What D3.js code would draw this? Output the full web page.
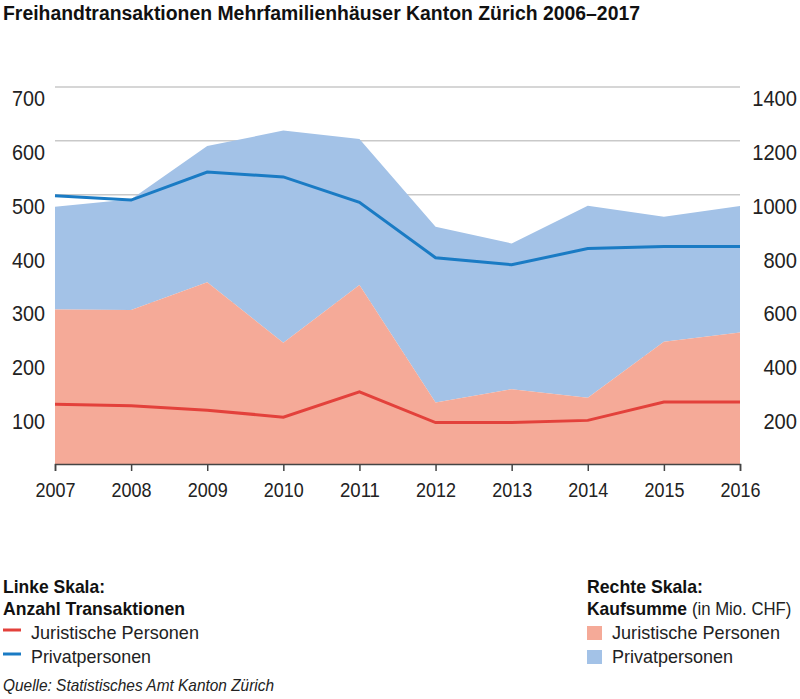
<!DOCTYPE html>
<html><head><meta charset="utf-8">
<script src="https://cdn.jsdelivr.net/npm/d3@7"></script>
<style>
body{margin:0;background:#fff;}
text{font-family:"Liberation Sans",Arial,sans-serif;}
</style></head>
<body><svg id="c" width="800" height="699"></svg>
<script>
const years = [2007,2008,2009,2010,2011,2012,2013,2014,2015,2016];
// Left scale: number of transactions
const countJuristisch = [111,108,100,87,134,77,77,81,115,115];
const countPrivat = [498,490,542,533,486,383,370,400,404,404];
// Right scale: purchase sum (Mio. CHF)
const sumJuristisch = [574,572,675,450,665,228,278,246,454,488];
const sumPrivat = [381,411,506,788,542,653,541,713,464,470];
const leftTicks = [100,200,300,400,500,600,700];
const rightTicks = [200,400,600,800,1000,1200,1400];

const svg = d3.select("#c");
const x = d3.scalePoint().domain(years).range([55,740]);
const yL = d3.scaleLinear().domain([0,700]).range([464,87]);
const yR = d3.scaleLinear().domain([0,1400]).range([464,87]);

function fit(sel, w){ return sel.attr("textLength", w).attr("lengthAdjust","spacingAndGlyphs"); }

// title
fit(svg.append("text").attr("x",3).attr("y",20).attr("font-size",19.5).attr("font-weight","bold")
  .attr("fill","#111").text("Freihandtransaktionen Mehrfamilienhäuser Kanton Zürich 2006–2017"), 637);

// gridlines
svg.append("g").selectAll("line").data(leftTicks).join("line")
  .attr("x1",55).attr("x2",740).attr("y1",d=>yL(d)).attr("y2",d=>yL(d))
  .attr("stroke","#c9c9c9").attr("stroke-width",1.5);

// areas
const data = years.map((y,i)=>({y, j:sumJuristisch[i], p:sumPrivat[i]}));
svg.append("path").datum(data)
  .attr("d", d3.area().x(d=>x(d.y)).y0(d=>yR(d.j)).y1(d=>yR(d.j+d.p)))
  .attr("fill","#a3c2e7");
svg.append("path").datum(data)
  .attr("d", d3.area().x(d=>x(d.y)).y0(yR(0)).y1(d=>yR(d.j)))
  .attr("fill","#f5aa98");

// lines
const ln = d3.line().x((d,i)=>x(years[i])).y(d=>yL(d));
svg.append("path").datum(countPrivat).attr("d",ln).attr("fill","none")
  .attr("stroke","#1a7bc4").attr("stroke-width",3);
svg.append("path").datum(countJuristisch).attr("d",ln).attr("fill","none")
  .attr("stroke","#e3413b").attr("stroke-width",3);

// x axis
const xa = svg.append("g").attr("transform","translate(0,464)")
  .call(d3.axisBottom(x).tickSize(7).tickPadding(11));
xa.select(".domain").attr("stroke","#444").attr("stroke-width",1.5);
xa.selectAll(".tick line").attr("stroke","#444").attr("stroke-width",1.5);
xa.selectAll("text").attr("font-size",20.5).attr("fill","#222")
  .style("font-family","'Liberation Sans',sans-serif")
  .attr("textLength",40).attr("lengthAdjust","spacingAndGlyphs");

// left axis labels
fit(svg.append("g").selectAll("text").data(leftTicks).join("text")
  .attr("x",45).attr("y",d=>yL(d)+19).attr("text-anchor","end")
  .attr("font-size",22).attr("fill","#222").text(d=>d), 33);
// right axis labels
svg.append("g").selectAll("text").data(rightTicks).join("text")
  .attr("x",797).attr("y",d=>yR(d)+19).attr("text-anchor","end")
  .attr("font-size",22).attr("fill","#222").text(d=>d)
  .attr("textLength",d=>String(d).length*11.2).attr("lengthAdjust","spacingAndGlyphs");

// legends
const L = svg.append("g");
fit(L.append("text").attr("x",3).attr("y",593).attr("font-size",19).attr("font-weight","bold").attr("fill","#111").text("Linke Skala:"),102);
fit(L.append("text").attr("x",3).attr("y",615).attr("font-size",19).attr("font-weight","bold").attr("fill","#111").text("Anzahl Transaktionen"),182);
const lineItems = [{t:"Juristische Personen",c:"#e3413b",w:168},{t:"Privatpersonen",c:"#1a7bc4",w:120}];
lineItems.forEach((d,i)=>{
  const yy = 639 + i*24;
  L.append("line").attr("x1",3).attr("x2",21).attr("y1",yy-9).attr("y2",yy-9).attr("stroke",d.c).attr("stroke-width",3);
  fit(L.append("text").attr("x",31).attr("y",yy).attr("font-size",19).attr("fill","#222").text(d.t), d.w);
});
fit(L.append("text").attr("x",3).attr("y",691).attr("font-size",17).attr("font-style","italic").attr("fill","#222").text("Quelle: Statistisches Amt Kanton Zürich"),271);

const R = svg.append("g");
fit(R.append("text").attr("x",587).attr("y",593).attr("font-size",19).attr("font-weight","bold").attr("fill","#111").text("Rechte Skala:"),116);
fit(R.append("text").attr("x",587).attr("y",615).attr("font-size",19).attr("font-weight","bold").attr("fill","#111").text("Kaufsumme"),100);
R.append("text").attr("transform","translate(692,615) scale(0.88,1)").attr("font-size",19).attr("fill","#222").text("(in Mio. CHF)");
const areaItems = [{t:"Juristische Personen",c:"#f5aa98",w:168},{t:"Privatpersonen",c:"#a3c2e7",w:121}];
areaItems.forEach((d,i)=>{
  const yy = 639 + i*24;
  R.append("rect").attr("x",587).attr("y",yy-13).attr("width",15).attr("height",14).attr("fill",d.c);
  fit(R.append("text").attr("x",612).attr("y",yy).attr("font-size",19).attr("fill","#222").text(d.t), d.w);
});
</script></body></html>
